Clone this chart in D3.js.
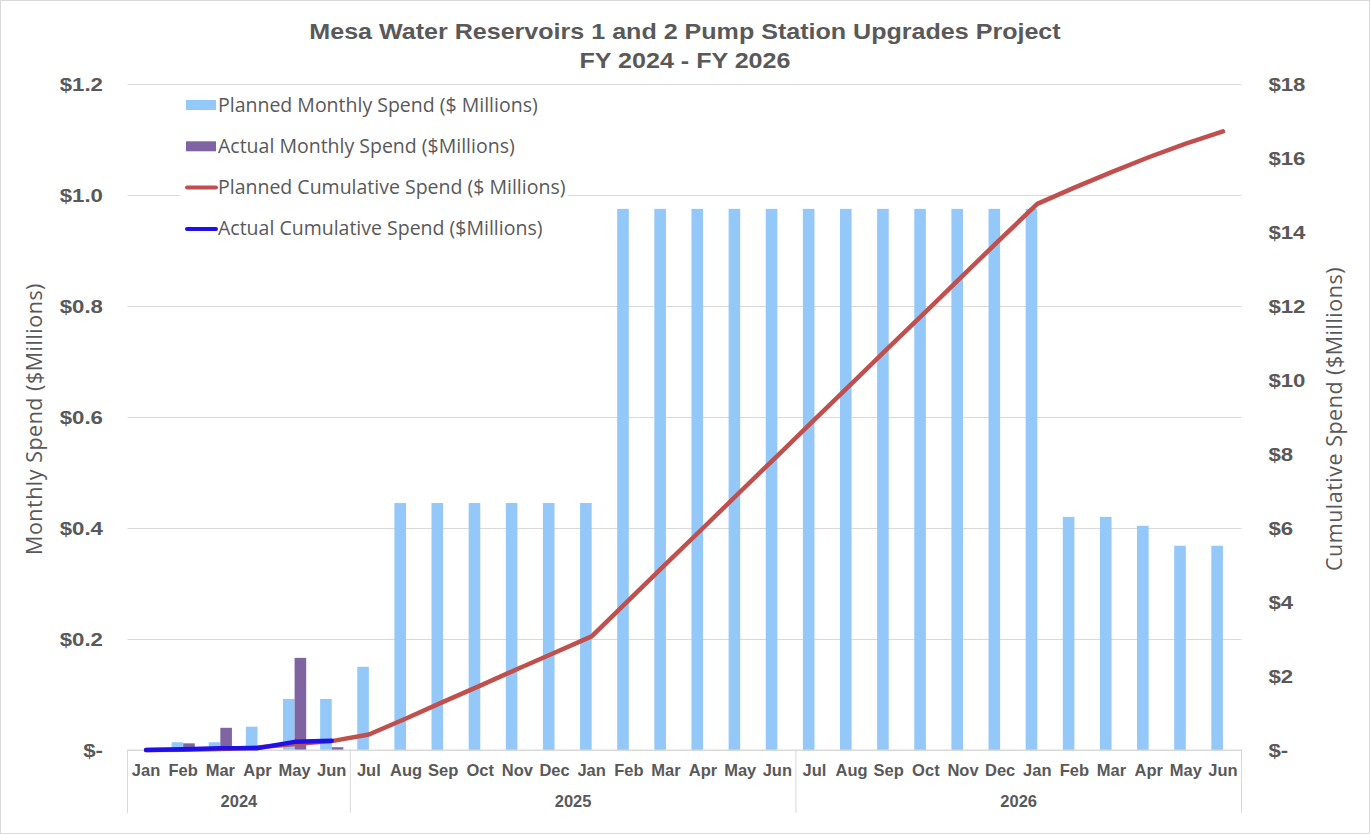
<!DOCTYPE html>
<html>
<head>
<meta charset="utf-8">
<script src="https://cdn.jsdelivr.net/npm/d3@7"></script>
<style>
  body { margin: 0; background: #fff; }
  text { fill: #595959; }
</style>
</head>
<body>
<svg id="chart"></svg>
<script>
const months = ['Jan', 'Feb', 'Mar', 'Apr', 'May', 'Jun',
  'Jul', 'Aug', 'Sep', 'Oct', 'Nov', 'Dec', 'Jan', 'Feb', 'Mar', 'Apr', 'May', 'Jun',
  'Jul', 'Aug', 'Sep', 'Oct', 'Nov', 'Dec', 'Jan', 'Feb', 'Mar', 'Apr', 'May', 'Jun'];
const years = ['2024', '2025', '2026'];
const yearMonths = [6, 12, 12];

// $ millions
const plannedMonthly = [0, 0.014, 0.014, 0.042, 0.092, 0.092,
  0.15, 0.445, 0.445, 0.445, 0.445, 0.445, 0.445, 0.975, 0.975, 0.975, 0.975, 0.975,
  0.975, 0.975, 0.975, 0.975, 0.975, 0.975, 0.975, 0.42, 0.42, 0.404, 0.368, 0.368];
const actualMonthly = [0, 0.012, 0.04, 0, 0.166, 0.005];
const plannedCumulative = [0, 0.01, 0.03, 0.07, 0.16, 0.24,
  0.42, 0.85, 1.30, 1.74, 2.19, 2.63, 3.07, 4.05, 5.03, 6.00, 6.98, 7.95,
  8.93, 9.90, 10.88, 11.85, 12.83, 13.80, 14.76, 15.20, 15.62, 16.02, 16.39, 16.72];
const actualCumulative = [0, 0.02, 0.05, 0.05, 0.22, 0.25];

const leftTicks = [0, 0.2, 0.4, 0.6, 0.8, 1.0, 1.2];
const rightTicks = [0, 2, 4, 6, 8, 10, 12, 14, 16, 18];

const legendItems = [
  {label: 'Planned Monthly Spend ($ Millions)', type: 'bar', color: '#94C8F9'},
  {label: 'Actual Monthly Spend ($Millions)', type: 'bar', color: '#8064A2'},
  {label: 'Planned Cumulative Spend ($ Millions)', type: 'line', color: '#C0504D'},
  {label: 'Actual Cumulative Spend ($Millions)', type: 'line', color: '#2010E8'}
];

const width = 1370,
      height = 834,
      plotLeft = 127.5,
      plotRight = 1241.5,
      plotTop = 84,
      plotBottom = 750;

const boldFont = 'Liberation Sans, Arial, sans-serif';
const lightFont = 'Open Sans, sans-serif';
const tickStretch = 1.17;   // tick labels in the source are drawn wide
const titleStretch = 1.14;

const svg = d3.select('#chart')
  .attr('width', width)
  .attr('height', height);

svg.append('rect')
  .attr('x', 0.5).attr('y', 0.5)
  .attr('width', width - 1).attr('height', height - 1)
  .attr('fill', '#fff')
  .attr('stroke', '#d9d9d9');

const x = d3.scaleBand()
  .domain(d3.range(months.length))
  .range([plotLeft, plotRight]);

const xSub = d3.scaleBand()
  .domain(['planned', 'actual'])
  .range([0, x.bandwidth()])
  .paddingOuter(0.6);

const yLeft = d3.scaleLinear().domain([0, 1.2]).range([plotBottom, plotTop]);
const yRight = d3.scaleLinear().domain([0, 18]).range([plotBottom, plotTop]);

// gridlines
svg.append('g')
  .attr('transform', `translate(${plotLeft},0)`)
  .call(d3.axisLeft(yLeft).tickValues(leftTicks).tickSize(-(plotRight - plotLeft)).tickFormat(''))
  .call(g => g.select('.domain').remove())
  .call(g => g.selectAll('line').attr('stroke', '#d9d9d9'));

// left axis labels
svg.append('g')
  .attr('transform', `translate(${plotLeft},0)`)
  .call(d3.axisLeft(yLeft).tickValues(leftTicks).tickSize(0).tickPadding(21)
    .tickFormat(d => d === 0 ? '$-' : '$' + d3.format('.1f')(d)))
  .call(g => g.select('.domain').remove())
  .call(g => g.selectAll('text')
    .attr('font-family', boldFont)
    .attr('font-weight', 'bold')
    .attr('font-size', 19)
    .attr('x', -21)
    .attr('transform', `scale(${tickStretch},1)`));

// right axis labels
svg.append('g')
  .attr('transform', `translate(${plotRight},0)`)
  .call(d3.axisRight(yRight).tickValues(rightTicks).tickSize(0).tickPadding(23)
    .tickFormat(d => d === 0 ? '$-' : '$' + d))
  .call(g => g.select('.domain').remove())
  .call(g => g.selectAll('text')
    .attr('font-family', boldFont)
    .attr('font-weight', 'bold')
    .attr('font-size', 19)
    .attr('x', 23)
    .attr('transform', `scale(${tickStretch},1)`));

// bars
svg.append('g').selectAll('rect')
  .data(plannedMonthly)
  .enter()
  .append('rect')
  .attr('x', (d, i) => x(i) + xSub('planned'))
  .attr('y', d => yLeft(d))
  .attr('width', xSub.bandwidth())
  .attr('height', d => plotBottom - yLeft(d))
  .attr('fill', '#94C8F9');

svg.append('g').selectAll('rect')
  .data(actualMonthly)
  .enter()
  .append('rect')
  .attr('x', (d, i) => x(i) + xSub('actual'))
  .attr('y', d => yLeft(d))
  .attr('width', xSub.bandwidth())
  .attr('height', d => plotBottom - yLeft(d))
  .attr('fill', '#8064A2');

// bottom axis line and category axis
svg.append('line')
  .attr('x1', plotLeft).attr('x2', plotRight)
  .attr('y1', plotBottom).attr('y2', plotBottom)
  .attr('stroke', '#d9d9d9');

svg.append('g')
  .attr('transform', `translate(0,${plotBottom})`)
  .call(d3.axisBottom(x).tickSize(0).tickPadding(14).tickFormat(i => months[i]))
  .call(g => g.select('.domain').remove())
  .call(g => g.selectAll('text')
    .attr('font-family', boldFont)
    .attr('font-weight', 'bold')
    .attr('font-size', 16.5));

const yearStarts = d3.cumsum([0].concat(yearMonths));
const sepX = Array.from(yearStarts, k => k < months.length ? x(k) : plotRight);

svg.append('g').selectAll('line')
  .data(sepX)
  .enter()
  .append('line')
  .attr('x1', d => d).attr('x2', d => d)
  .attr('y1', plotBottom).attr('y2', plotBottom + 63)
  .attr('stroke', '#d9d9d9');

svg.append('g').selectAll('text')
  .data(years)
  .enter()
  .append('text')
  .attr('x', (d, i) => (sepX[i] + sepX[i + 1]) / 2)
  .attr('y', plotBottom + 57)
  .attr('text-anchor', 'middle')
  .attr('font-family', boldFont)
  .attr('font-weight', 'bold')
  .attr('font-size', 16.5)
  .text(d => d);

// cumulative lines
const lineRight = d3.line()
  .x((d, i) => x(i) + x.bandwidth() / 2)
  .y(d => yRight(d));

svg.append('path')
  .datum(plannedCumulative)
  .attr('d', lineRight)
  .attr('fill', 'none')
  .attr('stroke', '#C0504D')
  .attr('stroke-width', 4.5)
  .attr('stroke-linejoin', 'round')
  .attr('stroke-linecap', 'round');

svg.append('path')
  .datum(actualCumulative)
  .attr('d', lineRight)
  .attr('fill', 'none')
  .attr('stroke', '#2010E8')
  .attr('stroke-width', 4.5)
  .attr('stroke-linejoin', 'round')
  .attr('stroke-linecap', 'round');

// legend
const legend = svg.append('g');
legend.append('rect')
  .attr('x', 180).attr('y', 88)
  .attr('width', 388).attr('height', 158)
  .attr('fill', '#fff');

const row = legend.selectAll('g.item')
  .data(legendItems)
  .enter()
  .append('g')
  .attr('class', 'item')
  .attr('transform', (d, i) => `translate(186,${105 + i * 41.3})`);

row.filter(d => d.type === 'bar')
  .append('rect')
  .attr('x', 0).attr('y', -5)
  .attr('width', 30).attr('height', 10)
  .attr('fill', d => d.color);

row.filter(d => d.type === 'line')
  .append('line')
  .attr('x1', 1).attr('x2', 30)
  .attr('y1', 0).attr('y2', 0)
  .attr('stroke', d => d.color)
  .attr('stroke-width', 4)
  .attr('stroke-linecap', 'round');

row.append('text')
  .attr('x', 32)
  .attr('y', 6.5)
  .attr('font-family', lightFont)
  .attr('font-size', 19.5)
  .text(d => d.label);

// axis titles
svg.append('text')
  .attr('transform', 'translate(42,419) rotate(-90)')
  .attr('text-anchor', 'middle')
  .attr('font-family', lightFont)
  .attr('font-size', 21.5)
  .attr('letter-spacing', 0.5)
  .text('Monthly Spend ($Millions)');

svg.append('text')
  .attr('transform', 'translate(1342,419) rotate(-90)')
  .attr('text-anchor', 'middle')
  .attr('font-family', lightFont)
  .attr('font-size', 21.5)
  .attr('letter-spacing', 0.5)
  .text('Cumulative Spend ($Millions)');

// title
const title = svg.append('text')
  .attr('transform', `scale(${titleStretch},1)`)
  .attr('text-anchor', 'middle')
  .attr('font-family', boldFont)
  .attr('font-weight', 'bold')
  .attr('font-size', 22);
title.append('tspan').attr('x', 685 / titleStretch).attr('y', 39)
  .text('Mesa Water Reservoirs 1 and 2 Pump Station Upgrades Project');
title.append('tspan').attr('x', 685 / titleStretch).attr('y', 68)
  .text('FY 2024 - FY 2026');
</script>
</body>
</html>
